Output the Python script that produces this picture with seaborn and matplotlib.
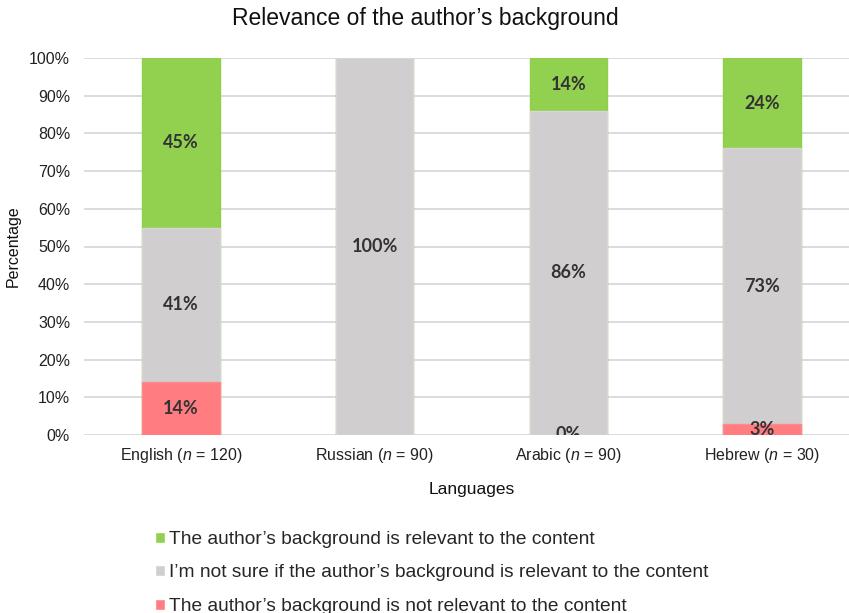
import matplotlib
matplotlib.use("Agg")
import matplotlib.pyplot as plt
from matplotlib.patches import Patch
import numpy as np
import pandas as pd
import seaborn as sns

languages = ["English", "Russian", "Arabic", "Hebrew"]
sample_sizes = [120, 90, 90, 30]
not_relevant = [14, 0, 0, 3]
not_sure = [41, 100, 86, 73]
relevant = [45, 0, 14, 24]

series_names = [
    "The author\u2019s background is relevant to the content",
    "I\u2019m not sure if the author\u2019s background is relevant to the content",
    "The author\u2019s background is not relevant to the content",
]
colors = {"relevant": "#92D050", "not_sure": "#D0CECE", "not_relevant": "#FF7C80"}
edges = {"relevant": "#8ED04A", "not_sure": "#D6D6D6", "not_relevant": "#FF8A8E"}

sns.set_theme(style="white")
plt.rcParams["font.family"] = ["Liberation Sans", "DejaVu Sans"]
plt.rcParams["mathtext.fontset"] = "custom"
plt.rcParams["mathtext.it"] = "Liberation Sans:italic"
plt.rcParams["mathtext.rm"] = "Liberation Sans"

tick_labels = [f"{lang} ($n$ = {n})" for lang, n in zip(languages, sample_sizes)]
df = pd.DataFrame({
    "language": tick_labels,
    "not_relevant": not_relevant,
    "not_sure": not_sure,
    "relevant": relevant,
})
df["cum_red"] = df["not_relevant"]
df["cum_grey"] = df["cum_red"] + df["not_sure"]
df["cum_green"] = df["cum_grey"] + df["relevant"]

fig = plt.figure(figsize=(8.49, 6.13), dpi=100)
ax = fig.add_axes([84 / 849, 1 - 435 / 613, (859 - 84) / 849, (435 - 58) / 613])

# stacked bars drawn from the top of the stack downwards
layers = [("cum_green", "relevant"), ("cum_grey", "not_sure"), ("cum_red", "not_relevant")]
for col, key in layers:
    sns.barplot(data=df, x="language", y=col, color=colors[key], width=0.4,
                edgecolor=edges[key], linewidth=1.0, saturation=1, ax=ax, zorder=3)

# empty segments get no outline
for p in ax.patches:
    if p.get_height() == 0:
        p.set_linewidth(0)

# segment labels
bottoms = np.zeros(len(df))
for key in ["not_relevant", "not_sure", "relevant"]:
    vals = df[key].to_numpy()
    for i, v in enumerate(vals):
        show = v > 0 or (key == "not_relevant" and df["not_sure"][i] < 100)
        if show:
            ax.text(i, bottoms[i] + v / 2, f"{v}%", ha="center", va="center",
                    fontsize=13, fontweight="bold", color="#333333",
                    family=["Lato", "DejaVu Sans"], zorder=5, clip_on=True)
    bottoms += vals

ax.set_ylim(0, 100)
ax.set_xlim(-0.5, 3.5)
ax.set_yticks(np.arange(0, 101, 10))
ax.set_yticklabels([f"{t}%" for t in range(0, 101, 10)], fontsize=11.5, color="#222222")
ax.tick_params(axis="x", labelsize=11.5, colors="#222222", pad=8, length=0)
ax.tick_params(axis="y", length=0, pad=10)
ax.yaxis.grid(True, color="#D9D9D9", linewidth=1.3, zorder=0)
ax.set_axisbelow(True)
for s in ax.spines.values():
    s.set_visible(False)

ax.set_xlabel("Languages", fontsize=12.5, color="#111111", labelpad=12)
ax.set_ylabel("Percentage", fontsize=11.5, color="#111111", labelpad=6)
fig.text(425 / 849, 1 - 19 / 613, "Relevance of the author\u2019s background",
         ha="center", va="center", fontsize=16.5, color="#111111")

handles = [Patch(facecolor=colors["relevant"]), Patch(facecolor=colors["not_sure"]),
           Patch(facecolor=colors["not_relevant"])]
fig.legend(handles, series_names, loc="upper left", bbox_to_anchor=(155 / 849, 1 - 531 / 613),
           frameon=False, fontsize=13.8, handlelength=0.5, handleheight=0.5,
           handletextpad=0.25, labelspacing=0.86, borderaxespad=0, borderpad=0)

fig.savefig("out.png", dpi=100)
